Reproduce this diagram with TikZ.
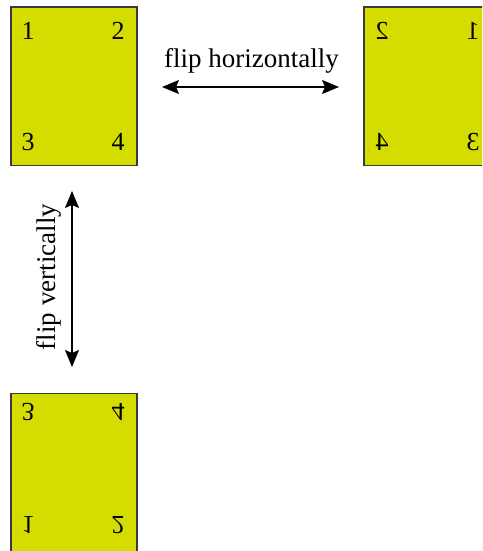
\documentclass[tikz,border=0pt]{standalone}
\usepackage{fontspec}
\setmainfont{Liberation Serif}
\usepackage{graphicx}
\usetikzlibrary{arrows.meta}
\definecolor{boxfill}{HTML}{D4DC00}
\definecolor{boxline}{HTML}{3A3A3A}
\tikzset{
  page/.style={x=1pt,y=-1pt},
  card/.style={draw=boxline, fill=boxfill, line width=1.5pt, minimum width=126pt, minimum height=158pt, inner sep=0pt, anchor=north west},
  digit/.style={font=\fontsize{26}{26}\selectfont, inner sep=0pt},
  label/.style={font=\fontsize{27}{27}\selectfont, inner sep=0pt},
  flip/.style={{Stealth[length=17pt,width=14pt,inset=3pt]}-{Stealth[length=17pt,width=14pt,inset=3pt]}, line width=1.3pt}
}
\newcommand{\hmir}[1]{\reflectbox{#1}}
\newcommand{\vmir}[1]{\scalebox{1}[-1]{#1}}
\begin{document}
\begin{tikzpicture}[page]
\useasboundingbox (0,0) rectangle (482,551);
\begin{scope}
\clip (0,0) rectangle (482,551);
% original
\node[card] (orig) at (10,6.5) {};
\node[digit] (o1) at (28,31) {1};
\node[digit] (o2) at (118,31) {2};
\node[digit] (o3) at (28,142) {3};
\node[digit] (o4) at (118,142) {4};
% horizontally flipped
\node[card] (hf) at (363,6.5) {};
\node[digit] (h2) at (382,31) {\hmir{2}};
\node[digit] (h1) at (473,31) {\hmir{1}};
\node[digit] (h4) at (382,142) {\hmir{4}};
\node[digit] (h3) at (473,142) {\hmir{3}};
% vertically flipped
\node[card] (vf) at (10,392.5) {};
\node[digit] (v3) at (28,412) {\vmir{3}};
\node[digit] (v4) at (118,412) {\vmir{4}};
\node[digit] (v1) at (28,525) {\vmir{1}};
\node[digit] (v2) at (118,525) {\vmir{2}};
\end{scope}
% arrows
\coordinate (hl) at (162,87);
\coordinate (hr) at (339,87);
\draw[flip] (hl) -- (hr);
\node[label] (hlab) at (251.5,61) {flip horizontally};
\coordinate (vt) at (72,191);
\coordinate (vb) at (72,367);
\draw[flip] (vt) -- (vb);
\node[label, rotate=90] (vlab) at (49,277) {flip vertically};
\end{tikzpicture}
\end{document}
